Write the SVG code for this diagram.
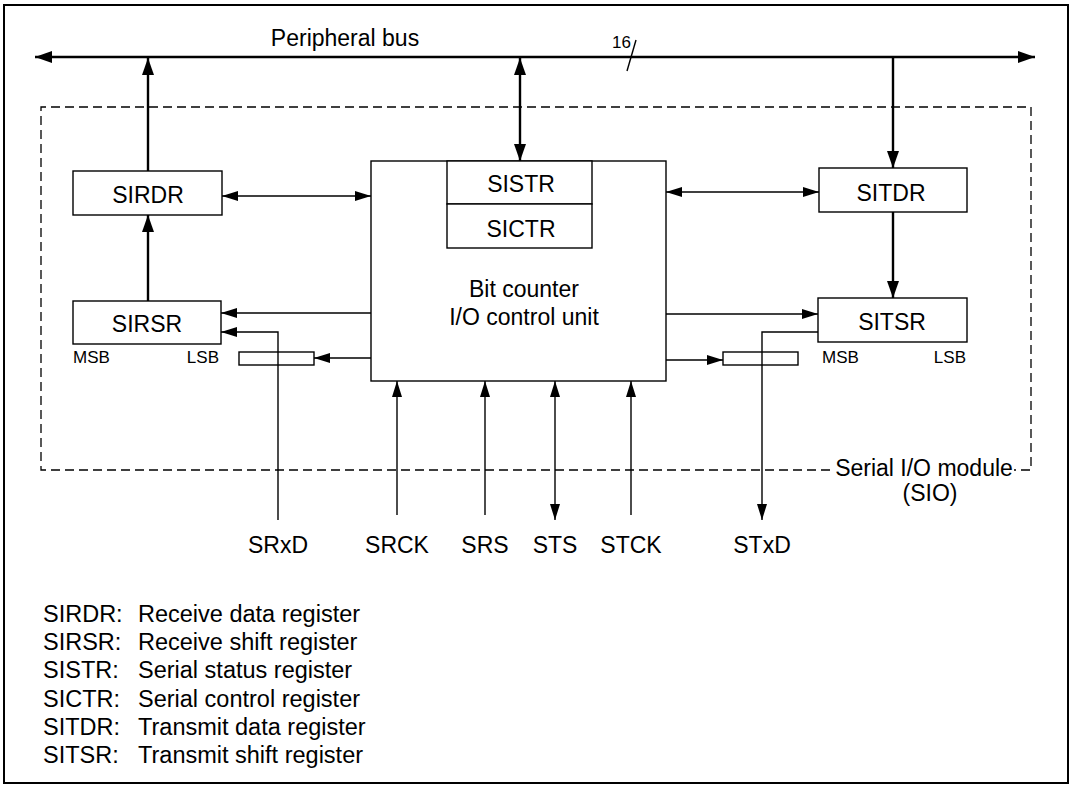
<svg xmlns="http://www.w3.org/2000/svg" width="1072" height="786" viewBox="0 0 1072 786">
<style>
text{font-family:"Liberation Sans",Arial,sans-serif;font-size:23px;fill:#000}
.sm{font-size:17px}
.lg{font-size:23.5px}
.box{fill:#fff;stroke:#000;stroke-width:1.4}
.thin{fill:none;stroke:#000;stroke-width:1.4}
.thick{fill:none;stroke:#000;stroke-width:2.4}
.dash{fill:none;stroke:#000;stroke-width:1.3;stroke-dasharray:9 5}
</style>
<defs>
<marker id="ah" markerUnits="userSpaceOnUse" markerWidth="18" markerHeight="14" refX="17" refY="6" orient="auto-start-reverse" viewBox="0 0 18 12"><path d="M0,0 L17,6 L0,12 z" fill="#000"/></marker>
<marker id="at" markerUnits="userSpaceOnUse" markerWidth="16" markerHeight="12" refX="16" refY="5" orient="auto-start-reverse" viewBox="0 0 16 10"><path d="M0,0 L16,5 L0,10 z" fill="#000"/></marker>
</defs>
<rect x="4" y="5" width="1064" height="778" fill="#fff" stroke="#000" stroke-width="2"/>
<g id="module">
<path class="dash" d="M830,470 L41,470 L41,107 L1031,107 L1031,470 L1014,470"/>
<text x="924" y="476" text-anchor="middle">Serial I/O module</text>
<text x="930" y="501" text-anchor="middle">(SIO)</text>
</g>
<g id="bus">
<text x="345" y="46" text-anchor="middle">Peripheral bus</text>
<text class="sm" x="612" y="48">16</text>
<line class="thin" x1="627" y1="71" x2="636" y2="40"/>
</g>
<g id="connectors">
<line class="thick" x1="35" y1="57" x2="1035" y2="57" marker-start="url(#ah)" marker-end="url(#ah)"/>
<line class="thick" x1="148" y1="171" x2="148" y2="58" marker-end="url(#ah)"/>
<line class="thick" x1="520" y1="58" x2="520" y2="161" marker-start="url(#ah)" marker-end="url(#ah)"/>
<line class="thick" x1="893" y1="57" x2="893" y2="168" marker-end="url(#ah)"/>
<line class="thick" x1="148" y1="301" x2="148" y2="215" marker-end="url(#ah)"/>
<line class="thick" x1="893" y1="212" x2="893" y2="298" marker-end="url(#ah)"/>
<line class="thin" x1="222" y1="196" x2="371" y2="196" marker-start="url(#at)" marker-end="url(#at)"/>
<line class="thin" x1="371" y1="313" x2="221" y2="313" marker-end="url(#at)"/>
<line class="thin" x1="371" y1="358" x2="314" y2="358" marker-end="url(#at)"/>
<path class="thin" d="M278,520 L278,332 L221,332" marker-end="url(#at)"/>
<line class="thin" x1="666" y1="192" x2="819" y2="192" marker-start="url(#at)" marker-end="url(#at)"/>
<line class="thin" x1="666" y1="314" x2="818" y2="314" marker-end="url(#at)"/>
<line class="thin" x1="666" y1="360" x2="723" y2="360" marker-end="url(#at)"/>
<path class="thin" d="M818,332 L762,332 L762,520" marker-end="url(#at)"/>
<line class="thin" x1="397" y1="515" x2="397" y2="381" marker-end="url(#at)"/>
<line class="thin" x1="485" y1="515" x2="485" y2="381" marker-end="url(#at)"/>
<line class="thin" x1="555" y1="381" x2="555" y2="520" marker-start="url(#at)" marker-end="url(#at)"/>
<line class="thin" x1="631" y1="515" x2="631" y2="381" marker-end="url(#at)"/>
</g>
<g id="SIRDR"><rect class="box" x="73" y="171" width="149" height="44"/><text x="148" y="203" text-anchor="middle">SIRDR</text></g>
<g id="SIRSR"><rect class="box" x="73" y="301" width="148" height="43"/><text x="147" y="332" text-anchor="middle">SIRSR</text>
<text class="sm" x="73" y="363">MSB</text><text class="sm" x="219" y="363" text-anchor="end">LSB</text></g>
<g id="rxbuf"><rect class="box" x="239" y="352" width="75" height="13"/><line class="thin" x1="278" y1="352" x2="278" y2="365"/></g>
<g id="SITDR"><rect class="box" x="819" y="168" width="148" height="44"/><text x="891" y="201" text-anchor="middle">SITDR</text></g>
<g id="SITSR"><rect class="box" x="818" y="298" width="149" height="44"/><text x="892" y="330" text-anchor="middle">SITSR</text>
<text class="sm" x="822" y="363">MSB</text><text class="sm" x="966" y="363" text-anchor="end">LSB</text></g>
<g id="txbuf"><rect class="box" x="723" y="352" width="75" height="13"/><line class="thin" x1="762" y1="352" x2="762" y2="365"/></g>
<g id="control"><rect class="box" x="371" y="161" width="295" height="220"/>
<text x="524" y="297" text-anchor="middle">Bit counter</text>
<text x="524" y="325" text-anchor="middle">I/O control unit</text></g>
<g id="SISTR"><rect class="box" x="447" y="161" width="145" height="43"/><text x="521" y="192" text-anchor="middle">SISTR</text></g>
<g id="SICTR"><rect class="box" x="447" y="204" width="145" height="44"/><text x="521" y="237" text-anchor="middle">SICTR</text></g>
<g id="pins">
<text x="278" y="553" text-anchor="middle">SRxD</text>
<text x="397" y="553" text-anchor="middle">SRCK</text>
<text x="485" y="553" text-anchor="middle">SRS</text>
<text x="555" y="553" text-anchor="middle">STS</text>
<text x="631" y="553" text-anchor="middle">STCK</text>
<text x="762" y="553" text-anchor="middle">STxD</text>
</g>
<g id="legend" class="lg">
<text class="lg" x="43" y="622">SIRDR:</text><text class="lg" x="138" y="622">Receive data register</text>
<text class="lg" x="43" y="650">SIRSR:</text><text class="lg" x="138" y="650">Receive shift register</text>
<text class="lg" x="43" y="678">SISTR:</text><text class="lg" x="138" y="678">Serial status register</text>
<text class="lg" x="43" y="707">SICTR:</text><text class="lg" x="138" y="707">Serial control register</text>
<text class="lg" x="43" y="735">SITDR:</text><text class="lg" x="138" y="735">Transmit data register</text>
<text class="lg" x="43" y="763">SITSR:</text><text class="lg" x="138" y="763">Transmit shift register</text>
</g>
</svg>
